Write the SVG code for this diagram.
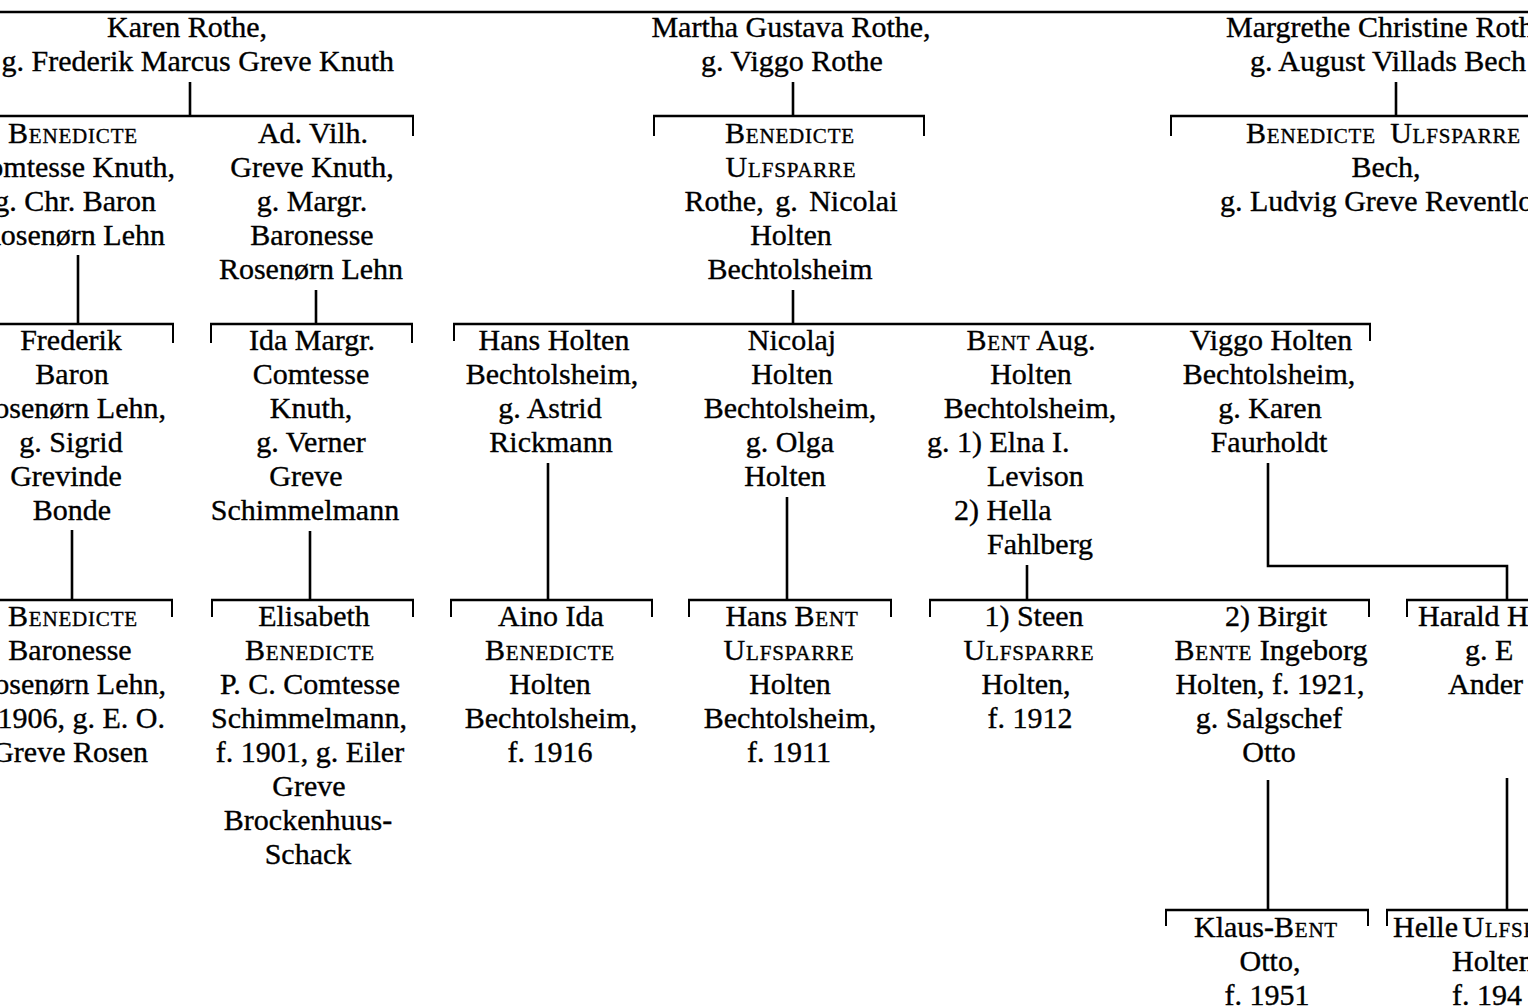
<svg xmlns="http://www.w3.org/2000/svg" width="1528" height="1008" viewBox="0 0 1528 1008">
<style>
text { font-family: "Liberation Serif", "Times New Roman", serif; font-size: 30px; fill: #000; stroke: #000; stroke-width: 0.35; text-anchor: middle; }
text.s { text-anchor: start; }
text.e { text-anchor: end; }
.sc { font-variant: small-caps; letter-spacing: 0.8px; }
.ln { stroke: #000; stroke-width: 2.6; fill: none; }
.tk { stroke: #000; stroke-width: 2; fill: none; }
</style>
<rect width="1528" height="1008" fill="#fff"/>
<g id="connectors">
<path class="ln" d="M0 12 H1528"/>
<path class="ln" d="M190 82 V116 M0 116 H414"/>
<path class="tk" d="M413 116 V136"/>
<path class="ln" d="M793 82 V116 M653 116 H925"/>
<path class="tk" d="M654 116 V136 M924 116 V136"/>
<path class="ln" d="M1396 82 V116 M1170 116 H1528"/>
<path class="tk" d="M1171 116 V136"/>
<path class="ln" d="M78 255 V324 M0 324 H174"/>
<path class="tk" d="M173 324 V343"/>
<path class="ln" d="M316 290 V324 M210 324 H413"/>
<path class="tk" d="M211 324 V343 M412 324 V343"/>
<path class="ln" d="M793 290 V324 M453 324 H1371"/>
<path class="tk" d="M454 324 V341 M1370 324 V341"/>
<path class="ln" d="M72 530 V600 M0 600 H173"/>
<path class="tk" d="M172 600 V617"/>
<path class="ln" d="M310 531 V600 M211 600 H414"/>
<path class="tk" d="M212 600 V617 M413 600 V617"/>
<path class="ln" d="M548 463 V600 M450 600 H653"/>
<path class="tk" d="M451 600 V617 M652 600 V617"/>
<path class="ln" d="M787 497 V600 M688 600 H892"/>
<path class="tk" d="M689 600 V617 M891 600 V617"/>
<path class="ln" d="M1027 565 V600 M929 600 H1370"/>
<path class="tk" d="M930 600 V617 M1369 600 V617"/>
<path class="ln" d="M1268 463 V566 H1507 V600 M1406 600 H1528"/>
<path class="tk" d="M1407 600 V617"/>
<path class="ln" d="M1268 780 V910 M1165 910 H1369"/>
<path class="tk" d="M1166 910 V926 M1368 910 V926"/>
<path class="ln" d="M1507 778 V910 M1386 910 H1528"/>
<path class="tk" d="M1387 910 V926"/>
</g>
<g id="karen">
<text x="187" y="37">Karen Rothe,</text>
<text class="e" x="394" y="71">g. Frederik Marcus Greve Knuth</text>
</g>
<g id="martha">
<text x="791" y="37">Martha Gustava Rothe,</text>
<text x="792" y="71">g. Viggo Rothe</text>
</g>
<g id="margrethe">
<text class="s" x="1226" y="37">Margrethe Christine Rothe,</text>
<text class="s" x="1250" y="71">g. August Villads Bech</text>
</g>
<g id="benedicte-knuth">
<text x="73" y="143" class="sc">Benedicte</text>
<text class="e" x="175" y="177">Comtesse Knuth,</text>
<text class="e" x="156" y="211">g. Chr. Baron</text>
<text class="e" x="165" y="245">Rosenørn Lehn</text>
</g>
<g id="advilh-knuth">
<text x="313" y="143">Ad. Vilh.</text>
<text x="312" y="177">Greve Knuth,</text>
<text x="312" y="211">g. Margr.</text>
<text x="312" y="245">Baronesse</text>
<text x="311" y="279">Rosenørn Lehn</text>
</g>
<g id="benedicte-rothe">
<text x="790" y="143" class="sc">Benedicte</text>
<text x="791" y="177" class="sc">Ulfsparre</text>
<text x="791" y="211" style="word-spacing:4px">Rothe, g. Nicolai</text>
<text x="791" y="245">Holten</text>
<text x="790" y="279">Bechtolsheim</text>
</g>
<g id="benedicte-bech">
<text class="s sc" x="1246" y="143" style="word-spacing:6px">Benedicte Ulfsparre</text>
<text x="1386" y="177">Bech,</text>
<text class="s" x="1220" y="211">g. Ludvig Greve Reventlow</text>
</g>
<g id="frederik">
<text x="71" y="350">Frederik</text>
<text x="72" y="384">Baron</text>
<text class="e" x="166" y="418">Rosenørn Lehn,</text>
<text x="71" y="452">g. Sigrid</text>
<text x="66" y="486">Grevinde</text>
<text x="72" y="520">Bonde</text>
</g>
<g id="ida">
<text x="312" y="350">Ida Margr.</text>
<text x="311" y="384">Comtesse</text>
<text x="311" y="418">Knuth,</text>
<text x="311" y="452">g. Verner</text>
<text x="306" y="486">Greve</text>
<text x="305" y="520">Schimmelmann</text>
</g>
<g id="hans">
<text x="554" y="350">Hans Holten</text>
<text x="552" y="384">Bechtolsheim,</text>
<text x="550" y="418">g. Astrid</text>
<text x="551" y="452">Rickmann</text>
</g>
<g id="nicolaj">
<text x="792" y="350">Nicolaj</text>
<text x="792" y="384">Holten</text>
<text x="790" y="418">Bechtolsheim,</text>
<text x="790" y="452">g. Olga</text>
<text x="785" y="486">Holten</text>
</g>
<g id="bent">
<text x="1031" y="350"><tspan class="sc">Bent</tspan> Aug.</text>
<text x="1031" y="384">Holten</text>
<text x="1030" y="418">Bechtolsheim,</text>
<text class="s" x="927" y="452">g. 1) Elna I.</text>
<text class="s" x="987" y="486">Levison</text>
<text class="s" x="954" y="520">2) Hella</text>
<text class="s" x="987" y="554">Fahlberg</text>
</g>
<g id="viggo">
<text x="1271" y="350">Viggo Holten</text>
<text x="1269" y="384">Bechtolsheim,</text>
<text x="1270" y="418">g. Karen</text>
<text x="1269" y="452">Faurholdt</text>
</g>
<g id="benedicte-rosenorn">
<text x="73" y="626" class="sc">Benedicte</text>
<text x="70" y="660">Baronesse</text>
<text class="e" x="166" y="694">Rosenørn Lehn,</text>
<text class="e" x="165" y="728">f. 1906, g. E. O.</text>
<text class="e" x="148" y="762">Greve Rosen</text>
</g>
<g id="elisabeth">
<text x="314" y="626">Elisabeth</text>
<text x="310" y="660" class="sc">Benedicte</text>
<text x="310" y="694">P. C. Comtesse</text>
<text x="309" y="728">Schimmelmann,</text>
<text x="310" y="762">f. 1901, g. Eiler</text>
<text x="309" y="796">Greve</text>
<text x="308" y="830">Brockenhuus-</text>
<text x="308" y="864">Schack</text>
</g>
<g id="aino">
<text x="551" y="626">Aino Ida</text>
<text x="550" y="660" class="sc">Benedicte</text>
<text x="550" y="694">Holten</text>
<text x="551" y="728">Bechtolsheim,</text>
<text x="550" y="762">f. 1916</text>
</g>
<g id="hans-bent">
<text x="792" y="626">Hans <tspan class="sc">Bent</tspan></text>
<text x="789" y="660" class="sc">Ulfsparre</text>
<text x="790" y="694">Holten</text>
<text x="790" y="728">Bechtolsheim,</text>
<text x="789" y="762">f. 1911</text>
</g>
<g id="steen">
<text x="1034" y="626">1) Steen</text>
<text x="1029" y="660" class="sc">Ulfsparre</text>
<text x="1026" y="694">Holten,</text>
<text x="1030" y="728">f. 1912</text>
</g>
<g id="birgit">
<text x="1276" y="626">2) Birgit</text>
<text x="1271" y="660"><tspan class="sc">Bente</tspan> Ingeborg</text>
<text x="1270" y="694">Holten, f. 1921,</text>
<text x="1269" y="728">g. Salgschef</text>
<text x="1269" y="762">Otto</text>
</g>
<g id="harald">
<text class="s" x="1418" y="626">Harald Holten</text>
<text class="s" x="1465" y="660">g. E</text>
<text class="s" x="1448" y="694">Ander</text>
</g>
<g id="klaus-bent">
<text x="1266" y="937">Klaus-<tspan class="sc">Bent</tspan></text>
<text x="1270" y="971">Otto,</text>
<text x="1267" y="1005">f. 1951</text>
</g>
<g id="helle">
<text class="s" x="1393" y="937" style="word-spacing:-3px">Helle <tspan class="sc">Ulfsparre</tspan></text>
<text class="s" x="1452" y="971">Holten,</text>
<text class="s" x="1452" y="1005">f. 194</text>
</g>
</svg>
